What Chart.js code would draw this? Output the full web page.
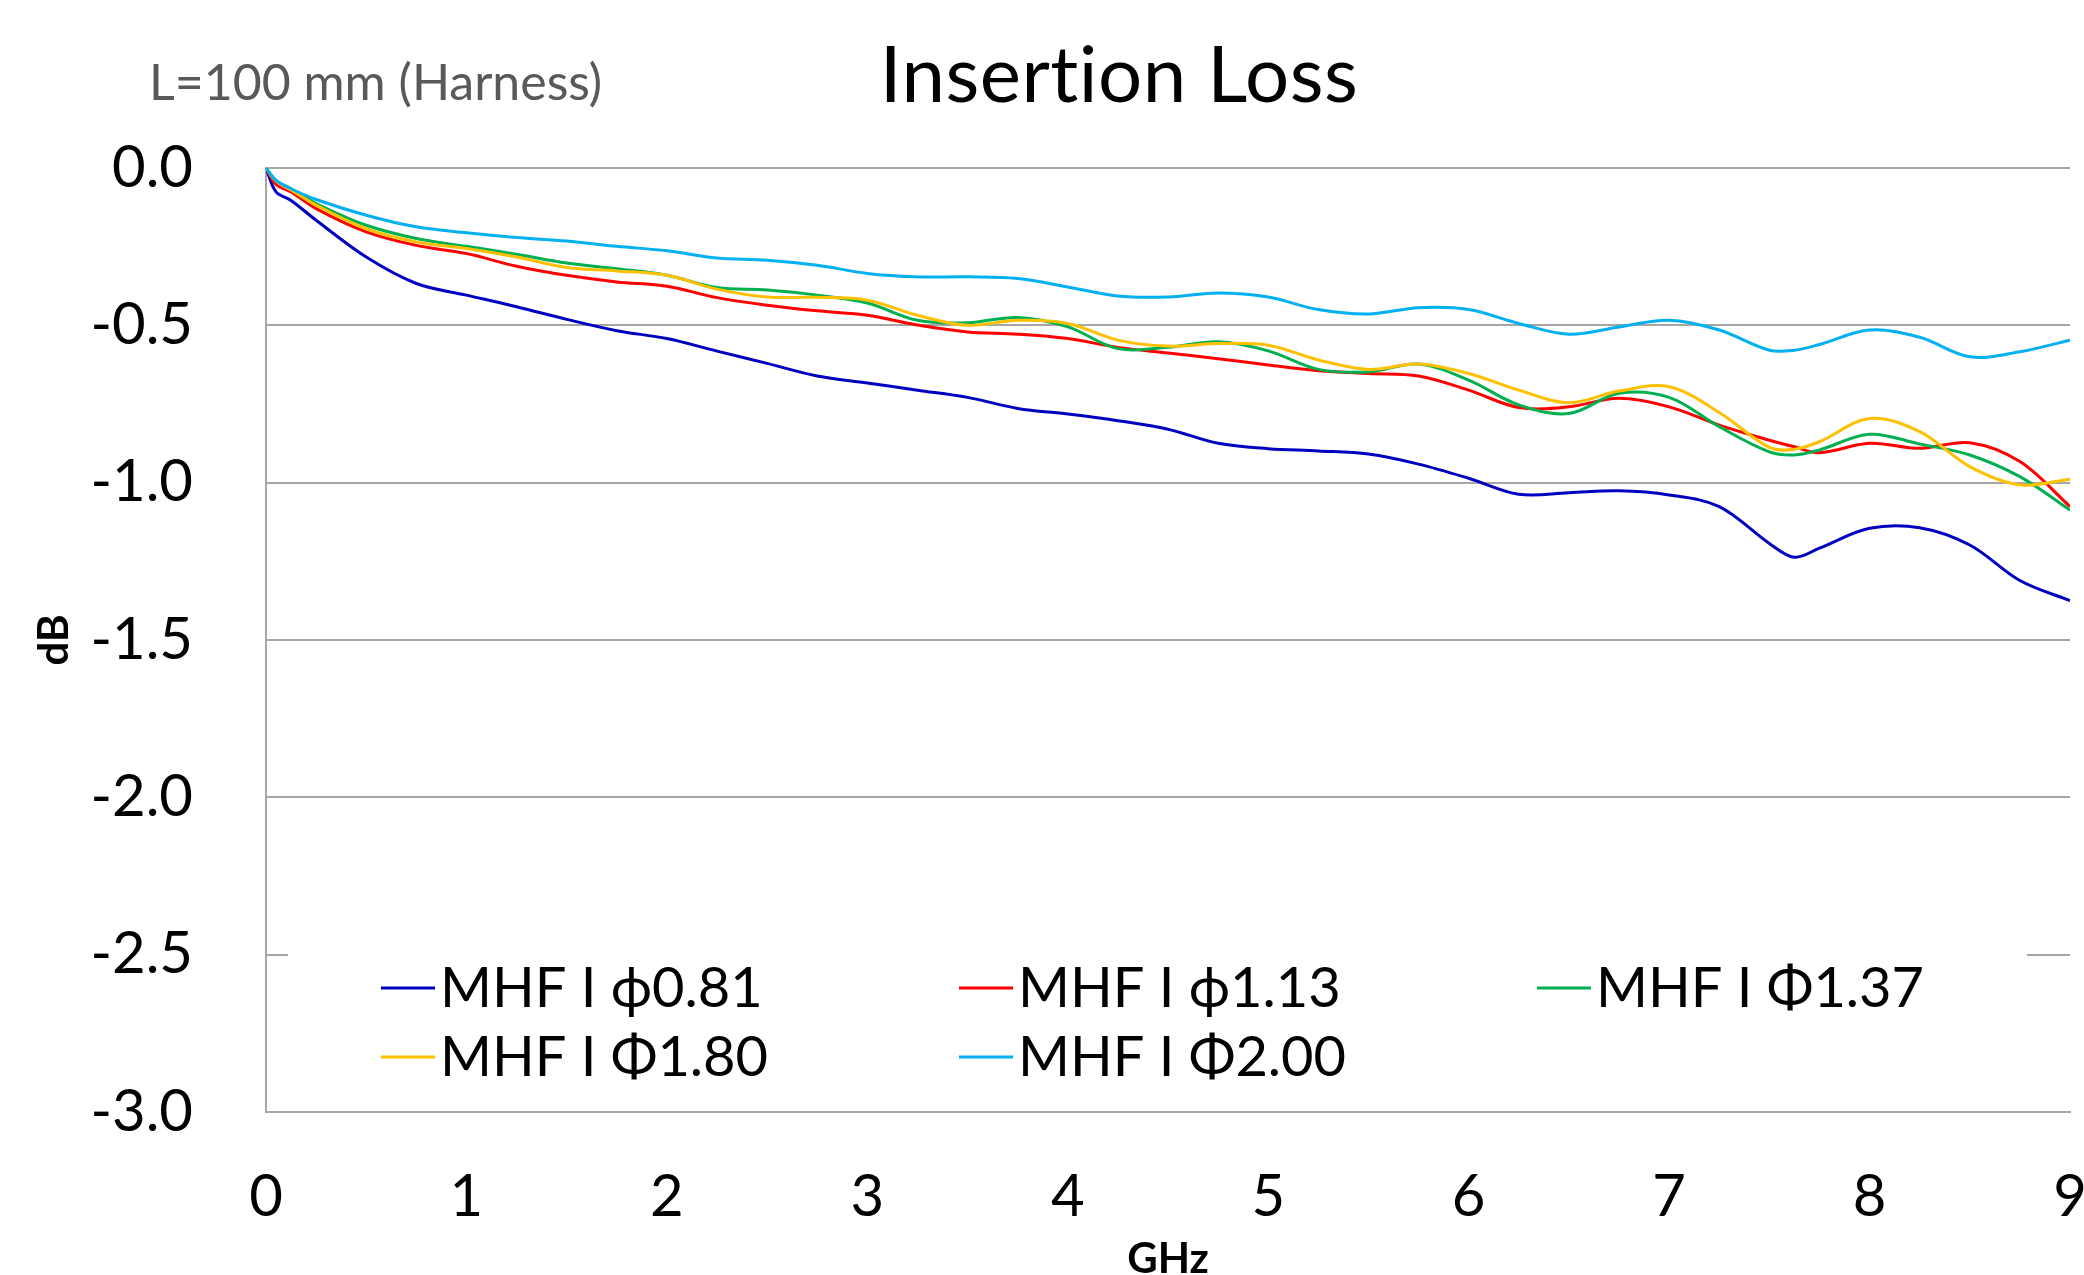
<!DOCTYPE html>
<html>
<head>
<meta charset="utf-8">
<script src="https://cdn.jsdelivr.net/npm/chart.js@4.4.1/dist/chart.umd.min.js"></script>
<style>
  html, body { margin: 0; padding: 0; background: #fff; }
  #contenedor { width: 2084px; height: 1275px; }
</style>
</head>
<body>
<div id="contenedor"><canvas id="grafico-perdida" width="2084" height="1275"></canvas></div>
<script>
// --- datos (GHz / dB) ---
const frecuencias = [0, 0.05, 0.125, 0.25, 0.5, 0.75, 1.0, 1.25, 1.5, 1.75, 2.0, 2.25, 2.5, 2.75, 3.0, 3.25, 3.5, 3.75, 4.0, 4.25, 4.5, 4.75, 5.0, 5.25, 5.5, 5.75, 6.0, 6.25, 6.5, 6.75, 7.0, 7.25, 7.5, 7.625, 7.75, 8.0, 8.25, 8.5, 8.75, 9.0];

const phi081 = [0, -0.076, -0.103, -0.166, -0.283, -0.367, -0.404, -0.441, -0.481, -0.517, -0.542, -0.582, -0.621, -0.661, -0.683, -0.706, -0.729, -0.764, -0.782, -0.803, -0.830, -0.875, -0.892, -0.899, -0.909, -0.941, -0.986, -1.037, -1.032, -1.026, -1.039, -1.076, -1.193, -1.237, -1.208, -1.145, -1.143, -1.198, -1.311, -1.375];
const phi113 = [0, -0.052, -0.076, -0.129, -0.203, -0.246, -0.272, -0.312, -0.341, -0.362, -0.376, -0.412, -0.436, -0.454, -0.468, -0.499, -0.521, -0.528, -0.542, -0.570, -0.588, -0.606, -0.626, -0.644, -0.653, -0.661, -0.706, -0.761, -0.759, -0.732, -0.759, -0.817, -0.865, -0.886, -0.905, -0.875, -0.891, -0.873, -0.933, -1.076];
const phi137 = [0, -0.041, -0.066, -0.113, -0.182, -0.224, -0.249, -0.274, -0.302, -0.320, -0.341, -0.380, -0.388, -0.404, -0.429, -0.484, -0.492, -0.475, -0.505, -0.574, -0.570, -0.552, -0.581, -0.640, -0.648, -0.623, -0.674, -0.753, -0.780, -0.716, -0.729, -0.822, -0.902, -0.912, -0.896, -0.846, -0.877, -0.912, -0.981, -1.087];
const phi180 = [0, -0.041, -0.070, -0.118, -0.193, -0.235, -0.256, -0.283, -0.316, -0.327, -0.341, -0.385, -0.410, -0.411, -0.420, -0.468, -0.500, -0.484, -0.494, -0.547, -0.566, -0.558, -0.563, -0.610, -0.640, -0.623, -0.653, -0.706, -0.746, -0.709, -0.695, -0.777, -0.888, -0.894, -0.870, -0.796, -0.838, -0.949, -1.007, -0.989];
const phi200 = [0, -0.039, -0.066, -0.100, -0.150, -0.187, -0.206, -0.221, -0.232, -0.249, -0.263, -0.286, -0.293, -0.309, -0.335, -0.346, -0.346, -0.351, -0.378, -0.407, -0.410, -0.397, -0.410, -0.450, -0.464, -0.444, -0.450, -0.494, -0.528, -0.505, -0.484, -0.515, -0.579, -0.579, -0.561, -0.515, -0.538, -0.600, -0.584, -0.547];

const nombresSeries = ['MHF I ϕ0.81', 'MHF I ϕ1.13', 'MHF I Φ1.37', 'MHF I Φ1.80', 'MHF I Φ2.00'];
const coloresSeries = ['#0000C0', '#FF0000', '#00B050', '#FFC000', '#00B0F0'];
const valoresSeries = [phi081, phi113, phi137, phi180, phi200];

const tituloGrafico = 'Insertion Loss';
const notaGrafico = 'L=100 mm (Harness)';
const fuente = "Lato, 'Noto Sans', 'DejaVu Sans', sans-serif";
const gris = '#A6A6A6';

// titulo, nota y leyenda dentro del area de trazado (como en Excel)
const textosExtra = {
  id: 'textosExtra',
  afterDraw(chart) {
    const ctx = chart.ctx;
    const area = chart.chartArea;
    ctx.save();
    ctx.textBaseline = 'alphabetic';
    ctx.textAlign = 'center';
    ctx.fillStyle = '#000';
    ctx.letterSpacing = '0.5px'; // sin ligaduras "ti"
    ctx.font = `78px ${fuente}`;
    ctx.fillText(tituloGrafico, 1119, 102);
    ctx.letterSpacing = '0px';

    ctx.textAlign = 'left';
    ctx.fillStyle = '#595959';
    ctx.font = `50px ${fuente}`;
    ctx.fillText(notaGrafico, 149, 100);

    // leyenda
    ctx.fillStyle = '#fff';
    ctx.fillRect(area.left + 22, 935, area.right - area.left - 65, 160);
    ctx.font = `56px ${fuente}`;
    chart.data.datasets.forEach((ds, i) => {
      const col = i % 3, fila = Math.floor(i / 3);
      const x = 381 + col * 578;
      const yLinea = 988 + fila * 69;
      ctx.strokeStyle = ds.borderColor;
      ctx.lineWidth = 3;
      ctx.beginPath();
      ctx.moveTo(x, yLinea);
      ctx.lineTo(x + 54, yLinea);
      ctx.stroke();
      ctx.fillStyle = '#000';
      ctx.fillText(ds.label, x + 59, 1007 + fila * 69);
    });
    ctx.restore();
  }
};

const ctx = document.getElementById('grafico-perdida');
new Chart(ctx, {
  type: 'line',
  data: {
    datasets: valoresSeries.map((serie, i) => ({
      label: nombresSeries[i],
      data: frecuencias.map((f, j) => ({ x: f, y: serie[j] })),
      borderColor: coloresSeries[i],
      backgroundColor: coloresSeries[i],
      borderWidth: 3,
      pointRadius: 0,
      tension: 0.35,
      fill: false,
      order: 4 - i
    }))
  },
  options: {
    responsive: false,
    animation: false,
    layout: { padding: { top: 168, right: 14, left: 0, bottom: 0 } },
    plugins: { legend: { display: false }, tooltip: { enabled: false } },
    scales: {
      x: {
        type: 'linear',
        min: 0, max: 9,
        ticks: { stepSize: 1, padding: 50, color: '#000', font: { family: fuente, size: 58 } },
        grid: { display: false, drawTicks: false },
        border: { display: true, color: gris, width: 2 },
        title: { display: true, text: 'GHz', color: '#000', padding: { top: 0, bottom: 0 },
                 font: { family: fuente, size: 42, weight: 'bold', lineHeight: 0.75 } },
        afterFit: s => { s.height = 163; s.paddingLeft = 0; s.paddingRight = 0; }
      },
      y: {
        min: -3, max: 0,
        ticks: { stepSize: 0.5, padding: 73, color: '#000', font: { family: fuente, size: 58 },
                 callback: v => v.toFixed(1) },
        grid: { color: gris, lineWidth: 2, drawTicks: false },
        border: { display: true, color: gris, width: 2 },
        title: { display: true, text: 'dB', color: '#000', padding: { top: 29, bottom: 0 },
                 font: { family: fuente, size: 42, weight: 'bold' } },
        afterFit: s => { s.width = 266; s.paddingTop = 0; s.paddingBottom = 0; }
      }
    }
  },
  plugins: [textosExtra]
});
</script>
</body>
</html>
